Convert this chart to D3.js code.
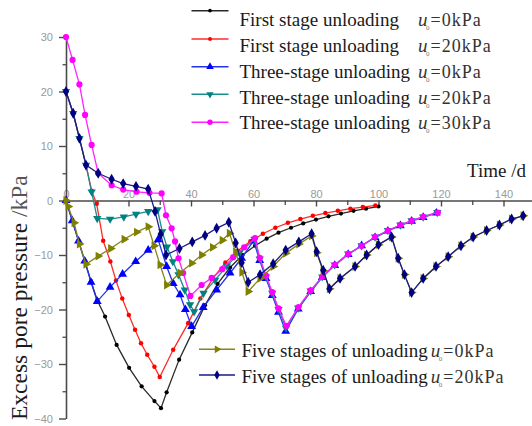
<!DOCTYPE html>
<html>
<head>
<meta charset="utf-8">
<script src="https://cdn.jsdelivr.net/npm/d3@7/dist/d3.min.js"></script>
<style>
  html, body { margin: 0; padding: 0; background: #fff; }
  svg { display: block; }
</style>
</head>
<body>
<svg id="chart" width="532" height="426"></svg>
<script>
// ---- data: time (d) and excess pore pressure (kPa) for each test ----
const tFirst0  = [0, 2, 4, 6, 8, 10, 12.5, 16.2, 20.2, 24.2, 28.3, 30.4, 32.2, 36.2, 40.4, 44.5, 48.5, 52.5, 56.5, 60.5, 64.2, 68, 72, 75.9, 80, 84, 88, 92, 96, 100];
const pFirst0  = [0, -3.7, -7.4, -11.1, -14.8, -18.3, -21.3, -26.5, -30.7, -34.1, -36.8, -38.1, -35.2, -29.2, -24.2, -19.2, -15.3, -12.3, -10, -8.3, -7.0, -5.9, -5.0, -4.2, -3.5, -2.9, -2.4, -1.9, -1.5, -1.1];

const tFirst20 = [0, 2.3, 4.3, 6.4, 8.2, 9.8, 11.9, 14.2, 16, 18, 20.1, 22.1, 24, 26, 28.3, 30, 34.3, 39.1, 43, 47, 51, 55, 59, 63, 67, 71, 75, 79, 83, 87, 91, 95, 99];
const pFirst20 = [20, 16, 11.4, 6.5, 1.8, -0.6, -7.4, -11.2, -14.7, -18, -21, -23.7, -26.2, -28.3, -30.5, -32.4, -27.4, -22.5, -18, -14.3, -11.4, -9.2, -7.5, -6.1, -5.0, -4.1, -3.4, -2.8, -2.3, -1.9, -1.5, -1.2, -0.9];

const tThree0  = [0, 2, 4, 6, 8, 10, 14.1, 18.1, 22.3, 26.3, 29.5, 32.2, 34.3, 36.5, 38.2, 40.2, 43.9, 48.2, 52.5, 56.2, 60, 62, 64, 66, 68, 70.3, 74.3, 78.3, 82, 86, 90.3, 94.6, 98.9, 103, 107, 110.6, 114.3, 118.5];
const pThree0  = [0, -3.7, -7.4, -11.1, -15, -18.5, -15.9, -13.5, -11.2, -9.1, -7.2, -12.1, -15.2, -17.3, -20, -23.1, -19.6, -16.4, -13.3, -10.6, -7.4, -11, -14.3, -17.4, -20.5, -24, -19.9, -16.7, -14.1, -11.9, -9.9, -8.3, -6.8, -5.6, -4.6, -3.8, -3.1, -2.3];

const tThree20 = [0, 2.3, 4.3, 6.4, 8.2, 10, 14.1, 18.5, 22.4, 26.3, 29.3, 30.8, 32.3, 34.2, 36, 38, 39.7, 41, 44, 47.7, 51.5, 55.5, 60.3, 62, 64, 66, 68, 70.4, 74.3, 78.3, 82, 86, 90.3, 94.6, 98.9, 103, 107, 110.6, 114.3, 118.8];
const pThree20 = [20, 16, 11.4, 6.5, 1.6, -3.3, -3.4, -3, -2.5, -2, -1.7, -5.7, -8.5, -11.2, -13.6, -16.4, -19.1, -20.4, -17, -14.6, -12, -9.6, -7.1, -10.7, -14, -17, -20, -23.4, -19.7, -16.6, -14, -11.8, -9.8, -8.3, -6.7, -5.5, -4.5, -3.7, -3.0, -2.2];

const tThree30 = [0, 2.1, 4.3, 6.1, 8.2, 10.3, 14.6, 18.3, 22.6, 26.7, 30.6, 32, 33.8, 34.9, 36, 37.5, 39.8, 43.4, 46.6, 50, 53.5, 57, 60.5, 62, 64, 66, 68, 70.5, 74.3, 78.3, 82, 86, 90.3, 94.6, 98.9, 103, 107, 110.6, 114.3, 119];
const pThree30 = [30, 25.8, 21.3, 15.7, 10.2, 5, 2.8, 2, 1.6, 1.4, 1.3, -2.7, -5.1, -7.5, -10.6, -13.3, -17.5, -15.5, -14.2, -12.6, -10.4, -8.6, -6.9, -10.5, -13.8, -16.8, -19.8, -23, -19.6, -16.5, -14, -11.8, -9.8, -8.3, -6.7, -5.5, -4.5, -3.7, -3.0, -2.2];

const tFive0   = [0, 0.7, 2.6, 4.3, 6.4, 10.3, 14.3, 18.6, 22.6, 26.3, 28.2, 30.1, 32.2, 36.5, 40.2, 43.4, 46.9, 50, 52.3, 54.3, 56.3, 58.3, 62.1, 66.3, 70.3, 74.5, 78.6, 80.2, 82.3, 84.3, 87.7, 92.5, 96.2, 100, 104.2, 106.3, 108.3, 110.6, 114.3, 118.4, 122.3, 126.4, 130.3, 134.6, 138.7, 142.6, 146.3];
const pFive0   = [0, -1.1, -4.1, -8, -11.7, -10.2, -8.8, -7.1, -5.8, -4.8, -8.3, -11.8, -15.5, -13.3, -11.5, -10, -8.6, -7.3, -6, -9.5, -13.2, -16.7, -14.3, -12.1, -9.7, -8.0, -6.5, -9.6, -12.9, -16.2, -14.3, -12.1, -10, -8.1, -6.7, -10.6, -13.6, -16.9, -14.3, -12.1, -10.3, -8.3, -6.7, -5.5, -4.5, -3.4, -2.8];

const tFive20  = [0, 2.3, 4.3, 6.4, 10.3, 14.6, 18.3, 22.4, 26.3, 28.5, 30.3, 32, 36.3, 40.4, 44.5, 48.2, 52.1, 54.3, 56.2, 58.3, 62.1, 66.3, 70.3, 74.5, 78.6, 80.2, 82.3, 84.3, 87.7, 92.5, 96.2, 100, 104.2, 106.3, 108.3, 110.6, 114.3, 118.4, 122.3, 126.4, 130.3, 134.6, 138.7, 142.6, 146.3];
const pFive20  = [20, 16, 11.4, 6.5, 5, 3.9, 3.1, 2.6, 2.1, -2, -6.2, -10, -8.8, -7.6, -6.4, -5.1, -4, -7.8, -11.4, -15, -13.6, -11.6, -9.1, -7.6, -6.1, -9.4, -12.8, -16.2, -14.3, -12.1, -10, -8.1, -6.7, -10.6, -13.6, -16.9, -14.3, -12.1, -10.3, -8.3, -6.7, -5.5, -4.5, -3.4, -2.8];

const seriesNames  = ["First stage unloading", "First stage unloading", "Three-stage unloading", "Three-stage unloading", "Three-stage unloading", "Five stages of unloading", "Five stages of unloading"];
const seriesU0     = ["=0kPa", "=20kPa", "=0kPa", "=20kPa", "=30kPa", "=0kPa", "=20kPa"];
const xMajorTicks  = [0, 20, 40, 60, 80, 100, 120, 140];
const xMinorTicks  = [10, 30, 50, 70, 90, 110, 130, 150];
const yMajorTicks  = [-40, -30, -20, -10, 0, 10, 20, 30];
const yMinorTicks  = [-35, -25, -15, -5, 5, 15, 25];

// ---- styling per series (drawn in this order, last on top) ----
const styles = [
  { color: "#000000", line: "#2a2a2a", sym: "circle",   size: 14 },
  { color: "#ff0000", line: "#ff2a2a", sym: "circle",   size: 16 },
  { color: "#0000ff", line: "#2233ee", sym: "triUp",    size: 34 },
  { color: "#008080", line: "#1a8c8c", sym: "triDown",  size: 30 },
  { color: "#ff00ff", line: "#ff22ff", sym: "circle",   size: 30 },
  { color: "#808000", line: "#858518", sym: "triRight", size: 34 },
  { color: "#000080", line: "#1a1a8a", sym: "diamond",  size: 34 }
];
const times  = [tFirst0, tFirst20, tThree0, tThree20, tThree30, tFive0, tFive20];
const values = [pFirst0, pFirst20, pThree0, pThree20, pThree30, pFive0, pFive20];

const series = times.map((t, i) => ({
  name: seriesNames[i], u0: seriesU0[i], style: styles[i],
  pts: t.map((tt, k) => ({ t: tt, v: values[i][k] }))
}));

const svg = d3.select("#chart");
const x = d3.scaleLinear().domain([0, 150]).range([66, 534.75]);
const y = d3.scaleLinear().domain([-40, 30]).range([418.5, 37]);

function symbolFor(name, size) {
  const types = { square: d3.symbolSquare, circle: d3.symbolCircle, triUp: d3.symbolTriangle,
                  triDown: d3.symbolTriangle, triRight: d3.symbolTriangle, diamond: d3.symbolDiamond };
  return d3.symbol(types[name], size)();
}
function rotFor(name) {
  return name === "triDown" ? 180 : name === "triRight" ? 90 : 0;
}

// ---- axes ----
const axisColor = "#4a4a4a";
const tickFont = "Liberation Sans, Arial, sans-serif";

const gx = svg.append("g").attr("transform", `translate(0,${y(0)})`)
  .call(d3.axisBottom(x).tickValues(xMajorTicks).tickSize(6).tickSizeOuter(0).tickFormat(d3.format("d")));
gx.select(".domain").attr("stroke", axisColor).attr("stroke-width", 1.6);
gx.selectAll(".tick line").attr("stroke", axisColor).attr("stroke-width", 1.4);
gx.selectAll(".tick text").attr("y", -3).attr("dy", 0)
  .attr("font-family", tickFont).attr("font-size", 11).attr("fill", "#9a9a9a");

const gxm = svg.append("g").attr("transform", `translate(0,${y(0)})`)
  .call(d3.axisBottom(x).tickValues(xMinorTicks).tickSize(4.5).tickFormat(""));
gxm.select(".domain").remove();
gxm.selectAll(".tick line").attr("stroke", axisColor).attr("stroke-width", 1.3);

const gy = svg.append("g").attr("transform", `translate(${x(0)},0)`)
  .call(d3.axisLeft(y).tickValues(yMajorTicks).tickSize(7).tickSizeOuter(0).tickPadding(6).tickFormat(d3.format("d")));
gy.select(".domain").attr("stroke", axisColor).attr("stroke-width", 1.6);
gy.selectAll(".tick line").attr("stroke", axisColor).attr("stroke-width", 1.4);
gy.selectAll(".tick text").attr("font-family", tickFont).attr("font-size", 11).attr("fill", "#9a9a9a");

const gym = svg.append("g").attr("transform", `translate(${x(0)},0)`)
  .call(d3.axisLeft(y).tickValues(yMinorTicks).tickSize(3.5).tickFormat(""));
gym.select(".domain").remove();
gym.selectAll(".tick line").attr("stroke", axisColor).attr("stroke-width", 1.3);

// axis titles
const serif = "Liberation Serif, 'Times New Roman', serif";
svg.append("text").attr("x", 467).attr("y", 176.5)
  .attr("font-family", serif).attr("font-size", 19).attr("fill", "#1a1a1a")
  .text("Time /d");

const yt = svg.append("text").attr("transform", "translate(27,420) rotate(-90)")
  .attr("font-family", serif).attr("font-size", 23.5).attr("fill", "#1a1a1a");
yt.append("tspan").text("Excess pore pressure ");
yt.append("tspan").attr("fill", "#555").text("/kPa");

// ---- curves ----
const line = d3.line().x(d => x(d.t)).y(d => y(d.v));
series.forEach(s => {
  const g = svg.append("g");
  g.append("path").datum(s.pts).attr("d", line)
    .attr("fill", "none").attr("stroke", s.style.line).attr("stroke-width", 1.3);
  g.selectAll("path.m").data(s.pts).join("path").attr("class", "m")
    .attr("transform", d => `translate(${x(d.t)},${y(d.v)}) rotate(${rotFor(s.style.sym)})`)
    .attr("d", symbolFor(s.style.sym, s.style.size))
    .attr("fill", s.style.color);
});

// ---- legends ----
function legendRow(s, lx0, lx1, ly, tx, baseline, uxMin) {
  const g = svg.append("g");
  g.append("line").attr("x1", lx0).attr("x2", lx1).attr("y1", ly).attr("y2", ly)
    .attr("stroke", s.style.line).attr("stroke-width", 1.4);
  g.append("path").attr("transform", `translate(${(lx0 + lx1) / 2},${ly}) rotate(${rotFor(s.style.sym)})`)
    .attr("d", symbolFor(s.style.sym, s.style.size * 0.75)).attr("fill", s.style.color);
  const label = g.append("text").attr("x", tx).attr("y", baseline)
    .attr("font-family", serif).attr("font-size", 19).attr("fill", "#1a1a1a").text(s.name);
  const ux = Math.max(uxMin, tx + label.node().getComputedTextLength() + 3);
  g.append("text").attr("x", ux).attr("y", baseline)
    .attr("font-family", serif).attr("font-size", 19).attr("font-style", "italic").attr("fill", "#333").text("u");
  g.append("text").attr("x", ux + 8).attr("y", baseline + 4)
    .attr("font-family", serif).attr("font-size", 7).attr("fill", "#777").text("0");
  g.append("text").attr("x", ux + 12.5).attr("y", baseline)
    .attr("font-family", serif).attr("font-size", 18).attr("letter-spacing", 1)
    .attr("fill", "#333").text(s.u0);
}

const topLines = [10.7, 39, 66.7, 94.3, 122.3];
const topBase  = [26, 52, 78, 104, 128.5];
for (let i = 0; i < 5; i++) {
  legendRow(series[i], 191.5, 228.5, topLines[i], 239.5, topBase[i], 418);
}
const botLines = [349.3, 375];
const botBase  = [357.3, 383];
for (let i = 0; i < 2; i++) {
  legendRow(series[5 + i], 199, 235, botLines[i], 241.5, botBase[i], 429);
}
</script>
</body>
</html>
